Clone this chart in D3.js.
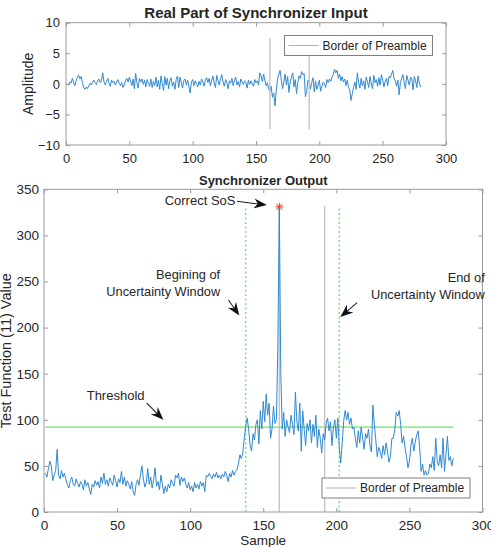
<!DOCTYPE html>
<html>
<head>
<meta charset="utf-8">
<script src="https://cdn.jsdelivr.net/npm/d3@7"></script>
<style>
  body { margin: 0; background: #fff; }
  text { font-family: "Liberation Sans", Arial, Helvetica, sans-serif; fill: #262626; }
</style>
</head>
<body>
<div id="chart-area"></div>
<script>
// real part of the synchronizer input, samples 1..280
var inputValues = [
  0.0, -0.2, 0.3, 0.1, 0.9, 0.2, -0.3, 0.5, 1.1, 1.4,
  0.8, 1.2, 0.2, -0.6, -0.9, -0.5, -0.8, -0.3, 0.1, -0.2,
  0.3, 0.6, 0.2, -0.1, 0.5, 0.8, 0.2, 0.6, 1.8, 0.3,
  -0.2, 0.4, 0.9, 0.1, -0.4, 0.6, 0.2, 0.4, -0.2, 0.3,
  0.7, 0.1, -0.3, 0.2, -0.6, -0.2, 0.5, 0.9, 0.3, 1.1,
  0.4, -0.3, 0.8, -0.8, 1.7, 0.2, -0.7, 0.9, 0.3, 0.8,
  -0.1, 0.6, -0.5, 0.7, 0.2, -0.4, 0.8, -0.6, 0.4, -0.3,
  1.1, -0.5, 0.6, -0.9, 1.3, 0.1, -1.1, 1.2, -0.2, 0.9,
  -0.8, 0.5, 1.0, -0.4, 0.3, -0.9, 0.7, 1.3, -0.6, 1.1,
  0.2, -0.7, 0.5, 0.8, -0.2, 0.6, -0.4, -1.5, 0.3, 0.7,
  -0.3, 0.5, 0.1, -0.5, 0.4, -0.2, 0.8, 0.3, -0.4, 0.6,
  1.0, 0.2, 0.9, -0.3, 0.6, 1.3, 0.1, -0.6, 1.4, 0.5,
  -0.2, 0.9, 1.5, 0.3, -0.4, 0.7, 0.2, -0.8, 0.5, 0.1,
  0.9, -0.3, 0.6, 1.1, -0.2, 0.4, -0.5, 0.8, 0.3, -0.1,
  0.5, 0.2, -0.7, 0.6, -0.1, 0.5, 0.0, -0.4, 0.7, 0.2,
  0.5, -0.2, 1.8, 1.3, 0.4, 1.6, 0.6, -0.3, 0.2, -0.8,
  -1.2, -0.4, -2.2, -1.5, -3.6, -1.0, 0.8, 1.5, 2.2, 0.6,
  -0.8, 0.4, 1.6, -0.2, 1.2, -1.4, 0.3, 1.1, 1.8, -0.5,
  0.7, -1.6, 0.2, 1.3, 0.9, 2.0, 1.5, 1.7, -2.1, -1.2,
  0.6, 0.4, -0.8, 0.2, 1.0, -1.3, 0.5, -0.9, -0.2, 0.6,
  -1.2, -0.4, 0.3, 0.1, -0.6, 0.7, 0.2, 0.8, 0.4, 1.1,
  1.5, 2.4, 1.8, 2.2, 0.9, 1.6, 0.5, 1.2, 0.3, 0.8,
  -0.3, 0.6, -0.5, -1.0, -2.7, -1.6, -0.6, 0.3, -0.9, 1.8,
  0.2, -0.7, 0.9, -0.3, 0.5, -0.9, 1.1, 0.4, -0.6, 1.2,
  0.0, -0.8, 1.4, 0.2, 0.7, -0.4, 1.0, -0.2, 1.5, 0.6,
  -0.5, 0.4, 0.9, -0.3, 1.2, 1.0, 1.6, 2.2, 0.8, 0.5,
  -0.4, 0.6, -1.8, 0.2, 0.9, 1.5, 0.2, -0.8, 1.4, 0.6,
  -0.2, 1.1, 0.8, -1.0, 1.2, 0.5, -0.6, 1.3, 0.1, -0.5
];

// test function (11) value, samples 1..280
var outputValues = [
  42, 38, 47, 55, 50, 34, 40, 45, 68, 40,
  36, 45, 38, 42, 35, 30, 26, 34, 38, 30,
  28, 36, 31, 27, 33, 30, 24, 35, 28, 32,
  25, 19, 30, 27, 34, 29, 33, 26, 38, 31,
  42, 30, 35, 28, 37, 33, 29, 40, 34, 27,
  36, 32, 44, 30, 38, 28, 34, 30, 25, 33,
  22, 18, 30, 35, 29, 40, 50, 36, 27, 32,
  47, 30, 38, 26, 35, 48, 28, 33, 24, 40,
  30, 20, 28, 22, 30, 26, 35, 31, 28, 40,
  37, 42, 29, 38, 33, 37, 30, 26, 32, 24,
  28, 22, 32, 26, 30, 25, 33, 28, 32, 22,
  40, 38, 42, 39, 36, 41, 38, 43, 37, 40,
  36, 41, 38, 44, 40, 33, 42, 38, 45, 40,
  44, 46, 52, 62, 58, 64, 80, 93, 102, 90,
  72, 66, 85, 78, 95, 100, 74, 110, 90, 120,
  98, 128, 105, 118, 80, 90, 115, 96, 100, 180,
  331, 150, 90, 108, 82, 100, 92, 86, 105, 95,
  84, 130, 98, 88, 118, 66, 110, 90, 72, 96,
  88, 100, 75, 95, 82, 105, 70, 90, 80, 64,
  85, 78, 96, 102, 88, 98, 72, 92, 100, 80,
  102, 70, 53, 75, 98, 110, 100, 108, 95, 102,
  90, 92, 80, 70, 88, 75, 92, 80, 68, 85,
  80, 90, 72, 65, 116, 95, 78, 60, 70, 66,
  58, 72, 62, 75, 66, 54, 60, 80, 80, 90,
  108, 104, 110, 95, 75, 82, 70, 60, 48, 55,
  72, 80, 66, 76, 84, 88, 70, 44, 52, 40,
  45, 40, 42, 52, 48, 60, 45, 80, 55, 50,
  62, 48, 80, 44, 62, 82, 56, 60, 50, 58
];

var preambleBorders = [161, 192];
var windowBorders = [138, 202];
var thresholdValue = 92;
var peakSample = 161;
var peakValue = 331;

var xTicks = [0, 50, 100, 150, 200, 250, 300];
var inputYTicks = [-10, -5, 0, 5, 10];
var outputYTicks = [0, 50, 100, 150, 200, 250, 300, 350];

// annotation anchors in data units of the lower plot
var labelTexts = [
  { lines: ["Correct SoS"], s: 131, v: 333 },
  { lines: ["Begining of", "Uncertainty Window"], s: 120.5, v: 253 },
  { lines: ["End of", "Uncertainty Window"], s: 301.5, v: 249 },
  { lines: ["Threshold"], s: 49, v: 122, middle: true }
];
var arrowLines = [
  { s1: 132, v1: 337, s2: 152.5, v2: 333 },
  { s1: 126.2, v1: 230, s2: 133.6, v2: 213 },
  { s1: 214.2, v1: 227, s2: 202.7, v2: 211.5 },
  { s1: 70.3, v1: 118, s2: 81.7, v2: 100 }
];

var width = 491;
var height = 547;
var blue = "#3089cf";
var frameColor = "#9a9a9a";
var lightGreen = "#90ee90";
var borderGray = "#c4c4c4";

var svg = d3.select("#chart-area")
  .append("svg")
  .attr("width", width)
  .attr("height", height)
  .style("background", "#fff");

function drawFrame(x, y, yTicks, fontSize, xPad, yPad) {
  var x0 = x.range()[0], x1 = x.range()[1];
  var y0 = y.range()[0], y1 = y.range()[1];

  svg.append("g")
    .attr("transform", "translate(0," + y0 + ")")
    .call(d3.axisBottom(x).tickValues(xTicks).tickSizeInner(-4).tickSizeOuter(0).tickPadding(xPad))
    .call(g => g.select(".domain").remove())
    .call(g => g.selectAll("line").attr("stroke", frameColor))
    .call(g => g.selectAll("text").attr("font-size", fontSize + "px").attr("fill", "#262626")
      .attr("font-family", "Liberation Sans, Arial, sans-serif"));

  svg.append("g")
    .attr("transform", "translate(0," + y1 + ")")
    .call(d3.axisTop(x).tickValues(xTicks).tickSizeInner(-4).tickSizeOuter(0).tickFormat(""))
    .call(g => g.select(".domain").remove())
    .call(g => g.selectAll("line").attr("stroke", frameColor));

  svg.append("g")
    .attr("transform", "translate(" + x0 + ",0)")
    .call(d3.axisLeft(y).tickValues(yTicks).tickSizeInner(-4).tickSizeOuter(0).tickPadding(yPad))
    .call(g => g.select(".domain").remove())
    .call(g => g.selectAll("line").attr("stroke", frameColor))
    .call(g => g.selectAll("text").attr("font-size", fontSize + "px").attr("fill", "#262626")
      .attr("font-family", "Liberation Sans, Arial, sans-serif"));

  svg.append("g")
    .attr("transform", "translate(" + x1 + ",0)")
    .call(d3.axisRight(y).tickValues(yTicks).tickSizeInner(-4).tickSizeOuter(0).tickFormat(""))
    .call(g => g.select(".domain").remove())
    .call(g => g.selectAll("line").attr("stroke", frameColor));

  svg.append("rect")
    .attr("x", x0).attr("y", y1)
    .attr("width", x1 - x0).attr("height", y0 - y1)
    .attr("fill", "none")
    .attr("stroke", frameColor)
    .attr("stroke-width", 1);
}

function drawLegend(lx, ly) {
  var lg = svg.append("g").attr("transform", "translate(" + lx + "," + ly + ")");
  lg.append("rect")
    .attr("width", 148).attr("height", 20)
    .attr("fill", "#fff").attr("stroke", "#808080").attr("stroke-width", 1);
  lg.append("line")
    .attr("x1", 4).attr("x2", 34).attr("y1", 10).attr("y2", 10)
    .attr("stroke", "#b0b0b0").attr("stroke-width", 1);
  lg.append("text")
    .attr("x", 38).attr("y", 14.3)
    .attr("font-size", "12px")
    .text("Border of Preamble");
}

// ---------- upper plot ----------
var xIn = d3.scaleLinear().domain([0, 300]).range([66, 446]);
var yIn = d3.scaleLinear().domain([-10, 10]).range([145, 22.7]);

svg.append("path")
  .datum(inputValues)
  .attr("fill", "none")
  .attr("stroke", blue)
  .attr("stroke-width", 1)
  .attr("d", d3.line().x((d, i) => xIn(i + 1)).y(d => yIn(d)));

svg.selectAll(".inBorder")
  .data(preambleBorders).enter()
  .append("line")
  .attr("class", "inBorder")
  .attr("x1", d => xIn(d)).attr("x2", d => xIn(d))
  .attr("y1", yIn(-7.4)).attr("y2", yIn(7.4))
  .attr("stroke", borderGray).attr("stroke-width", 1.4);

drawFrame(xIn, yIn, inputYTicks, 13, 9, 6);
drawLegend(284.5, 35.5);

svg.append("text")
  .attr("x", (xIn.range()[0] + xIn.range()[1]) / 2)
  .attr("y", 18)
  .attr("text-anchor", "middle")
  .attr("font-size", "15px")
  .attr("font-weight", "bold")
  .attr("fill", "#111")
  .text("Real Part of Synchronizer Input");

svg.append("text")
  .attr("transform", "translate(33," + yIn(0) + ") rotate(-90)")
  .attr("text-anchor", "middle")
  .attr("font-size", "14px")
  .text("Amplitude");

// ---------- lower plot ----------
var xOut = d3.scaleLinear().domain([0, 300]).range([44, 482.5]);
var yOut = d3.scaleLinear().domain([0, 350]).range([512, 189.3]);

svg.append("line")
  .attr("x1", xOut(1)).attr("x2", xOut(280))
  .attr("y1", yOut(thresholdValue)).attr("y2", yOut(thresholdValue))
  .attr("stroke", lightGreen).attr("stroke-width", 1.8);

svg.selectAll(".winBorder")
  .data(windowBorders).enter()
  .append("line")
  .attr("class", "winBorder")
  .attr("x1", d => xOut(d)).attr("x2", d => xOut(d))
  .attr("y1", yOut(0)).attr("y2", yOut(332))
  .attr("stroke", "#7be07b").attr("stroke-width", 1.5)
  .attr("stroke-dasharray", "2,2.5");

svg.selectAll(".outBorder")
  .data(preambleBorders).enter()
  .append("line")
  .attr("class", "outBorder")
  .attr("x1", d => xOut(d)).attr("x2", d => xOut(d))
  .attr("y1", yOut(0)).attr("y2", yOut(332))
  .attr("stroke", borderGray).attr("stroke-width", 1.4);

svg.append("path")
  .datum(outputValues)
  .attr("fill", "none")
  .attr("stroke", blue)
  .attr("stroke-width", 1)
  .attr("d", d3.line().x((d, i) => xOut(i + 1)).y(d => yOut(d)));

// red star on the maximum
var star = svg.append("g")
  .attr("transform", "translate(" + xOut(peakSample) + "," + yOut(peakValue) + ")")
  .attr("stroke", "#ff3030").attr("stroke-width", 1);
star.append("line").attr("x1", -4).attr("x2", 4).attr("y1", 0).attr("y2", 0);
star.append("line").attr("x1", 0).attr("x2", 0).attr("y1", -4).attr("y2", 4);
star.append("line").attr("x1", -3).attr("x2", 3).attr("y1", -3).attr("y2", 3);
star.append("line").attr("x1", -3).attr("x2", 3).attr("y1", 3).attr("y2", -3);

drawFrame(xOut, yOut, outputYTicks, 13.5, 8, 5);
drawLegend(322, 478);

svg.append("text")
  .attr("x", (xOut.range()[0] + xOut.range()[1]) / 2)
  .attr("y", 544.5)
  .attr("text-anchor", "middle")
  .attr("font-size", "13.5px")
  .text("Sample");

svg.append("text")
  .attr("x", (xOut.range()[0] + xOut.range()[1]) / 2)
  .attr("y", 184.5)
  .attr("text-anchor", "middle")
  .attr("font-size", "13px")
  .attr("font-weight", "bold")
  .attr("fill", "#111")
  .text("Synchronizer Output");

svg.append("text")
  .attr("transform", "translate(11," + yOut(175) + ") rotate(-90)")
  .attr("text-anchor", "middle")
  .attr("font-size", "14.5px")
  .text("Test Function (11) Value");

// annotations
labelTexts.forEach(function (a) {
  var t = svg.append("text")
    .attr("x", xOut(a.s))
    .attr("y", yOut(a.v))
    .attr("text-anchor", a.middle ? "middle" : "end")
    .attr("font-size", a.lines.length > 1 ? "12.8px" : "13px");
  a.lines.forEach(function (line, i) {
    t.append("tspan")
      .attr("x", xOut(a.s))
      .attr("dy", i === 0 ? 0 : 17)
      .text(line);
  });
});

arrowLines.forEach(function (a) {
  var x1 = xOut(a.s1), y1 = yOut(a.v1), x2 = xOut(a.s2), y2 = yOut(a.v2);
  var ang = Math.atan2(y2 - y1, x2 - x1) * 180 / Math.PI;
  var len = Math.hypot(x2 - x1, y2 - y1);
  var g = svg.append("g")
    .attr("transform", "translate(" + x2 + "," + y2 + ") rotate(" + ang + ")");
  g.append("line")
    .attr("x1", -len).attr("x2", -8).attr("y1", 0).attr("y2", 0)
    .attr("stroke", "#1a1a1a").attr("stroke-width", 1);
  g.append("path")
    .attr("d", "M0,0 L-13,-5 L-9,0 L-13,5 Z")
    .attr("fill", "#111");
});
</script>
</body>
</html>
